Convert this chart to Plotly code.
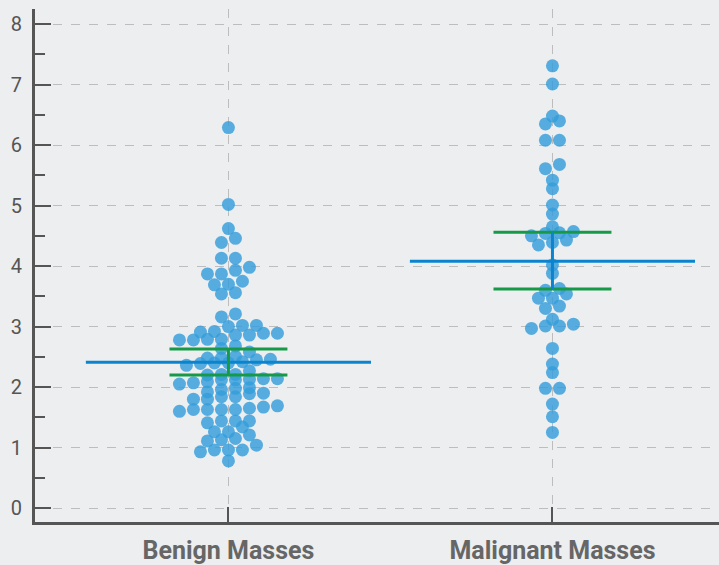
import plotly.graph_objects as go

# ---------------- data ----------------
categories = ["Benign Masses", "Malignant Masses"]

benign = [
    0.78,
    0.93, 0.96, 0.96, 0.96, 1.04,
    1.11, 1.13, 1.15, 1.21,
    1.26, 1.26, 1.34,
    1.41, 1.44, 1.44, 1.44,
    1.60, 1.63, 1.63, 1.63, 1.63, 1.65, 1.67, 1.69,
    1.80, 1.80, 1.84, 1.84, 1.89, 1.90,
    1.92, 1.96, 1.98, 1.99,
    2.05, 2.07, 2.09, 2.12, 2.12, 2.13, 2.14, 2.14,
    2.20, 2.21, 2.21, 2.27,
    2.36, 2.39, 2.40, 2.40, 2.42, 2.45, 2.46,
    2.48, 2.48, 2.51, 2.58,
    2.64, 2.68,
    2.78, 2.78, 2.79, 2.79, 2.86, 2.86, 2.89, 2.89,
    2.91, 2.92, 3.00, 3.02, 3.02,
    3.16, 3.21,
    3.54, 3.56,
    3.69, 3.70, 3.75,
    3.87, 3.87, 3.93, 3.98,
    4.13, 4.13,
    4.39, 4.46,
    4.62,
    5.02,
    6.29,
]

malignant = [
    1.25, 1.51, 1.72, 1.98, 1.98, 2.24, 2.38, 2.64,
    2.97, 3.01, 3.01, 3.04,
    3.12,
    3.30, 3.34,
    3.47, 3.47, 3.54,
    3.60, 3.63,
    3.88, 4.02,
    4.35, 4.39, 4.43,
    4.50, 4.54, 4.55, 4.57,
    4.65, 4.86, 5.01, 5.28, 5.42,
    5.61, 5.68,
    6.08, 6.08,
    6.35, 6.40,
    6.48, 7.01, 7.31,
]

means = [2.41, 4.08]
ci_low = [2.20, 3.62]
ci_high = [2.63, 4.56]
y_tick_values = [0, 1, 2, 3, 4, 5, 6, 7, 8]

# ---------------- layout constants ----------------
W, H = 719, 565
L, R, T, B = 35, 0, 9, 43
x_range = [-0.597, 1.514]
y_range = [-0.23, 8.25]
px_per_x = (W - L - R) / (x_range[1] - x_range[0])

BG = "#eceef0"
DOT = "rgba(52,158,218,0.82)"
BLUE = "#0a84cf"
GREEN = "#179a48"
AXIS = "#555555"
GRID = "#bdbdbd"


def swarm(values, center, gap_px=14.0, row_h=0.115):
    """Prism-style dot layout: values grouped into rows, spread symmetrically."""
    vals = sorted(values)
    rows = []
    for v in vals:
        if rows and v - rows[-1][0] <= row_h + 1e-9:
            rows[-1].append(v)
        else:
            rows.append([v])
    step = gap_px / px_per_x
    xs, ys = [], []
    for row in rows:
        n = len(row)
        for i, v in enumerate(row):
            xs.append(center + (i - (n - 1) / 2) * step)
            ys.append(v)
    return xs, ys


fig = go.Figure()

for ci, vals in enumerate([benign, malignant]):
    xs, ys = swarm(vals, ci)
    fig.add_trace(go.Scatter(
        x=xs, y=ys, mode="markers",
        marker=dict(size=13, color=DOT, line=dict(width=0)),
        showlegend=False, hoverinfo="y",
    ))

mean_half = 0.44
cap_half = 0.182
for ci in range(len(categories)):
    # mean line
    fig.add_trace(go.Scatter(
        x=[ci - mean_half, ci + mean_half], y=[means[ci], means[ci]],
        mode="lines", line=dict(color=BLUE, width=3),
        showlegend=False, hoverinfo="skip"))
    # CI caps
    for yv in (ci_low[ci], ci_high[ci]):
        fig.add_trace(go.Scatter(
            x=[ci - cap_half, ci + cap_half], y=[yv, yv],
            mode="lines", line=dict(color=GREEN, width=3),
            showlegend=False, hoverinfo="skip"))
    # vertical connector
    fig.add_trace(go.Scatter(
        x=[ci, ci], y=[ci_low[ci], ci_high[ci]],
        mode="lines", line=dict(color=GREEN if ci == 0 else BLUE, width=3),
        showlegend=False, hoverinfo="skip"))

fig.update_layout(
    width=W, height=H,
    margin=dict(l=L, r=R, t=T, b=B, pad=0),
    paper_bgcolor=BG, plot_bgcolor=BG,
    showlegend=False,
)

fig.update_xaxes(
    range=x_range, tickmode="array", tickvals=[0, 1], ticktext=categories,
    showline=True, linecolor=AXIS, linewidth=3,
    ticks="inside", ticklen=15, tickwidth=2, tickcolor=AXIS,
    showgrid=True, gridcolor=GRID, griddash="dash", gridwidth=1,
    zeroline=False, automargin=False,
    tickfont=dict(family="Roboto", size=25, color="#666666", weight="bold"),
    ticklabelstandoff=4,
)

fig.update_yaxes(
    range=y_range, tickmode="array", tickvals=y_tick_values,
    showline=True, linecolor=AXIS, linewidth=3,
    ticks="inside", ticklen=16, tickwidth=2, tickcolor=AXIS,
    minor=dict(dtick=0.5, tick0=0, ticks="inside", ticklen=10, tickwidth=2,
               tickcolor=AXIS, showgrid=False),
    showgrid=True, gridcolor=GRID, griddash="dash", gridwidth=1,
    zeroline=False, automargin=False,
    tickfont=dict(family="Roboto", size=20, color="#555555"),
    ticklabelstandoff=6,
)

fig.write_html(
    "out.html",
    config={"displayModeBar": False},
    post_script="document.body.style.margin='0';document.body.style.background='" + BG + "';",
)
